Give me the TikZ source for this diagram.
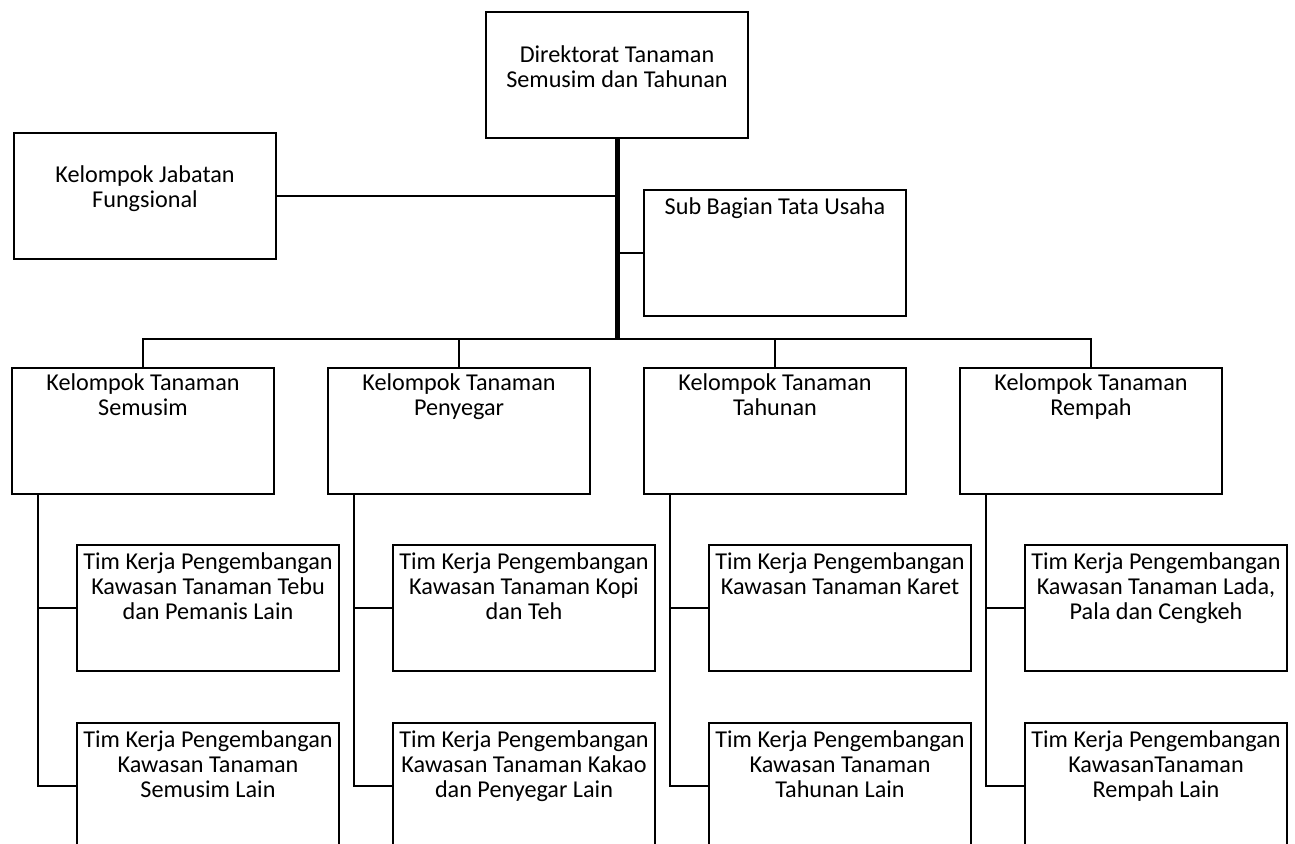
\documentclass[tikz,border=0pt]{standalone}
\usepackage{fontspec}
\setmainfont{Carlito}
\usetikzlibrary{positioning}
\tikzset{
    x=0.5pt, y=-0.5pt,
    unit/.style={
        draw,
        line width=1pt,
        minimum width=131pt,
        minimum height=63pt,
        anchor=north west,
        inner sep=0pt
    },
    caption/.style={
        align=center,
        inner sep=0pt,
        font=\fontsize{12.1}{12.5}\selectfont
    },
    link/.style={
        draw,
        line width=1pt
    },
    trunk/.style={
        draw,
        line width=2.5pt
    }
}

\begin{document}
\begin{tikzpicture}
                \useasboundingbox (0,0) rectangle (1295,843);
                \clip (0,0) rectangle (1295,843);
                \node[unit] (dir) at (485,11) {};
                \node[unit] (jab) at (13,132) {};
                \node[unit] (sub) at (643,189) {};
                \node[unit] (k1) at (11,367) {};
                \node[unit] (k2) at (327,367) {};
                \node[unit] (k3) at (643,367) {};
                \node[unit] (k4) at (959,367) {};
                \node[unit] (ta1) at (76,544) {};
                \node[unit] (ta2) at (392,544) {};
                \node[unit] (ta3) at (708,544) {};
                \node[unit] (ta4) at (1024,544) {};
                \node[unit] (tb1) at (76,722) {};
                \node[unit] (tb2) at (392,722) {};
                \node[unit] (tb3) at (708,722) {};
                \node[unit] (tb4) at (1024,722) {};
                \node[caption, below=17pt of dir.north] (dir-t) {Direktorat Tanaman\\Semusim dan Tahunan};
                \node[caption, below=16.5pt of jab.north] (jab-t) {Kelompok Jabatan\\Fungsional};
                \node[caption, below=4pt of sub.north] (sub-t) {Sub Bagian Tata Usaha};
                \node[caption, below=3pt of k1.north] (k1-t) {Kelompok Tanaman\\Semusim};
                \node[caption, below=3pt of k2.north] (k2-t) {Kelompok Tanaman\\Penyegar};
                \node[caption, below=3pt of k3.north] (k3-t) {Kelompok Tanaman\\Tahunan};
                \node[caption, below=3pt of k4.north] (k4-t) {Kelompok Tanaman\\Rempah};
                \node[caption, below=4pt of ta1.north] (ta1-t) {Tim Kerja Pengembangan\\Kawasan Tanaman Tebu\\dan Pemanis Lain};
                \node[caption, below=4pt of ta2.north] (ta2-t) {Tim Kerja Pengembangan\\Kawasan Tanaman Kopi\\dan Teh};
                \node[caption, below=4pt of ta3.north] (ta3-t) {Tim Kerja Pengembangan\\Kawasan Tanaman Karet};
                \node[caption, below=4pt of ta4.north] (ta4-t) {Tim Kerja Pengembangan\\Kawasan Tanaman Lada,\\Pala dan Cengkeh};
                \node[caption, below=4pt of tb1.north] (tb1-t) {Tim Kerja Pengembangan\\Kawasan Tanaman\\Semusim Lain};
                \node[caption, below=4pt of tb2.north] (tb2-t) {Tim Kerja Pengembangan\\Kawasan Tanaman Kakao\\dan Penyegar Lain};
                \node[caption, below=4pt of tb3.north] (tb3-t) {Tim Kerja Pengembangan\\Kawasan Tanaman\\Tahunan Lain};
                \node[caption, below=4pt of tb4.north] (tb4-t) {Tim Kerja Pengembangan\\KawasanTanaman\\Rempah Lain};
                \coordinate (hub) at (dir.south |- 0,339);
                \draw[trunk] (dir.south) -- (hub);
                \draw[link] (jab.east) -- (jab.east -| hub);
                \draw[link] (sub.west) -- (sub.west -| hub);
                \draw[link] (k1.north) |- (hub) -| (k4.north);
                \draw[link] (k2.north) -- (k2.north |- hub);
                \draw[link] (k3.north) -- (k3.north |- hub);
                \draw[link] ([xshift=13.5pt]k1.south west) |- (tb1.west);
                \draw[link] ([xshift=13.5pt]k1.south west |- ta1.west) -- (ta1.west);
                \draw[link] ([xshift=13.5pt]k2.south west) |- (tb2.west);
                \draw[link] ([xshift=13.5pt]k2.south west |- ta2.west) -- (ta2.west);
                \draw[link] ([xshift=13.5pt]k3.south west) |- (tb3.west);
                \draw[link] ([xshift=13.5pt]k3.south west |- ta3.west) -- (ta3.west);
                \draw[link] ([xshift=13.5pt]k4.south west) |- (tb4.west);
                \draw[link] ([xshift=13.5pt]k4.south west |- ta4.west) -- (ta4.west);
\end{tikzpicture}
\end{document}
